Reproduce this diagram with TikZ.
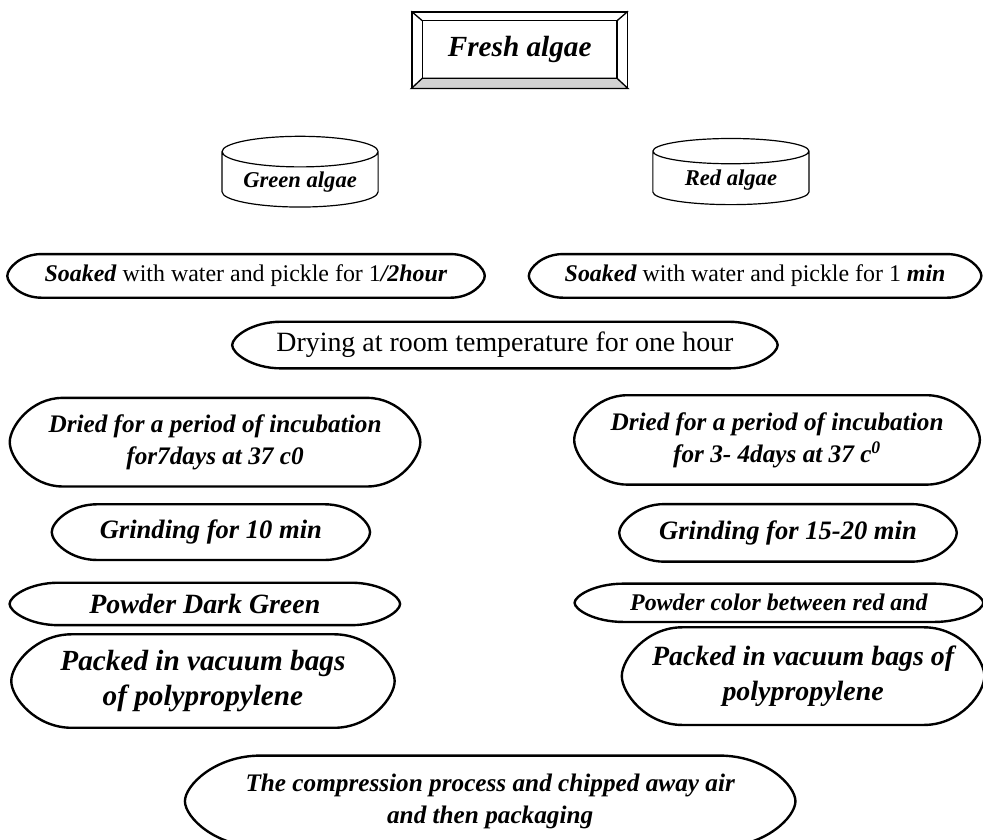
\documentclass[tikz,border=0pt]{standalone}
\usepackage{fontspec}
\setmainfont{Liberation Serif}
\usepackage{tikz}
\usetikzlibrary{
  shapes.geometric,
  positioning,
  calc
}

\tikzset{
  capsule/.style={append after command={\pgfextra{
    \draw[line width=1.8pt]
      ([xshift=#1]\tikzlastnode.north west) -- ([xshift=-#1]\tikzlastnode.north east)
      .. controls ([xshift=-0.4*#1]\tikzlastnode.north east) and ($(\tikzlastnode.east)!0.35!(\tikzlastnode.north east)$) .. (\tikzlastnode.east)
      .. controls ($(\tikzlastnode.east)!0.35!(\tikzlastnode.south east)$) and ([xshift=-0.4*#1]\tikzlastnode.south east) .. ([xshift=-#1]\tikzlastnode.south east)
      -- ([xshift=#1]\tikzlastnode.south west)
      .. controls ([xshift=0.4*#1]\tikzlastnode.south west) and ($(\tikzlastnode.west)!0.35!(\tikzlastnode.south west)$) .. (\tikzlastnode.west)
      .. controls ($(\tikzlastnode.west)!0.35!(\tikzlastnode.north west)$) and ([xshift=0.4*#1]\tikzlastnode.north west) .. cycle;
  }}},
  capsule/.default=1.3cm
}

\begin{document}
\begin{tikzpicture}[
  procbox/.style={rectangle, inner sep=1pt, align=center, font=\fontsize{19}{24}\selectfont\bfseries\itshape},
  plainbox/.style={procbox, font=\fontsize{18}{22}\selectfont},
  tank/.style={cylinder, shape border rotate=90, draw, line width=0.9pt, aspect=0.25, minimum width=4.13cm, minimum height=1.75cm, font=\fontsize{17}{20}\selectfont\bfseries\itshape},
  bevel/.style={rectangle, draw, line width=1pt, minimum width=5.7cm, minimum height=2.01cm, font=\fontsize{22}{26}\selectfont\bfseries\itshape}
]
  \useasboundingbox (0,0) rectangle (26.01,-22.20);

  % Top box
  \node[bevel] (fresh) at (13.75,-1.32) {Fresh algae};
  \path (fresh.north west) ++(0.29,-0.25) coordinate (fin-nw);
  \path (fresh.south east) ++(-0.29,0.27) coordinate (fin-se);
  \path (fin-nw |- fin-se) coordinate (fin-sw);
  \path (fin-se |- fin-nw) coordinate (fin-ne);
  \filldraw[fill=gray!35, line width=1pt] (fresh.south west) -- (fresh.south east) -- (fin-se) -- (fin-sw) -- cycle;
  \draw[line width=1pt] (fin-nw) rectangle (fin-se);
  \draw[line width=1pt] (fresh.north west) -- (fin-nw) (fresh.north east) -- (fin-ne);

  % Algae types
  \node[tank] (green) at (7.94,-4.82) {Green algae};
  \node[tank] (red) at (19.34,-4.77) {Red algae};

  % Soaking
  \node[plainbox, capsule=0.9cm, minimum width=12.62cm, minimum height=1.14cm] (soak-g) at (6.51,-7.30)
    {\textbf{\textit{Soaked}} with water and pickle for 1\textbf{\textit{/2hour}}};
  \node[plainbox, capsule=0.9cm, minimum width=11.96cm, minimum height=1.14cm] (soak-r) at (19.98,-7.30)
    {\textbf{\textit{Soaked}} with water and pickle for 1 \textbf{\textit{min}}};

  \node[plainbox, capsule, minimum width=14.42cm, minimum height=1.22cm, font=\fontsize{21}{24}\selectfont] (drying) at (13.36,-9.13)
    {Drying at room temperature for one hour};

  % Green branch
  \node[procbox, capsule=1.4cm, minimum width=10.85cm, minimum height=2.33cm] (dried-g) at (5.69,-11.70)
    {Dried for a period of incubation\\for7days at 37 c0};
  \node[procbox, capsule=1.2cm, minimum width=8.41cm, minimum height=1.46cm, font=\fontsize{20}{24}\selectfont\bfseries\itshape] (grind-g) at (5.58,-14.08)
    {Grinding for 10 min};
  \node[procbox, capsule, minimum width=10.32cm, minimum height=1.11cm, font=\fontsize{21}{24}\selectfont\bfseries\itshape] (powder-g) at (5.42,-15.98)
    {Powder Dark Green};
  \node[procbox, capsule=1.6cm, minimum width=10.13cm, minimum height=2.46cm, font=\fontsize{22}{26}\selectfont\bfseries\itshape] (pack-g) at (5.37,-18.02)
    {Packed in vacuum bags\\of polypropylene};

  % Red branch
  \node[procbox, capsule=1.4cm, minimum width=10.72cm, minimum height=2.35cm] (dried-r) at (20.56,-11.64)
    {Dried for a period of incubation\\for 3- 4days at 37 c\textsuperscript{0}};
  \node[procbox, capsule=1.2cm, minimum width=8.92cm, minimum height=1.51cm, font=\fontsize{20}{24}\selectfont\bfseries\itshape] (grind-r) at (20.85,-14.10)
    {Grinding for 15-20 min};
  \node[procbox, capsule, minimum width=10.80cm, minimum height=1.0cm, font=\fontsize{18}{20}\selectfont\bfseries\itshape] (powder-r) at (20.61,-15.95)
    {Powder color between red and};
  \node[procbox, capsule=1.6cm, minimum width=9.58cm, minimum height=2.57cm, font=\fontsize{21}{26}\selectfont\bfseries\itshape] (pack-r) at (21.25,-17.89)
    {Packed in vacuum bags of\\polypropylene};

  % Final step
  \node[procbox, capsule=2.0cm, minimum width=16.14cm, minimum height=2.40cm] (compress) at (12.97,-21.20)
    {The compression process and chipped away air\\and then packaging};
\end{tikzpicture}
\end{document}
